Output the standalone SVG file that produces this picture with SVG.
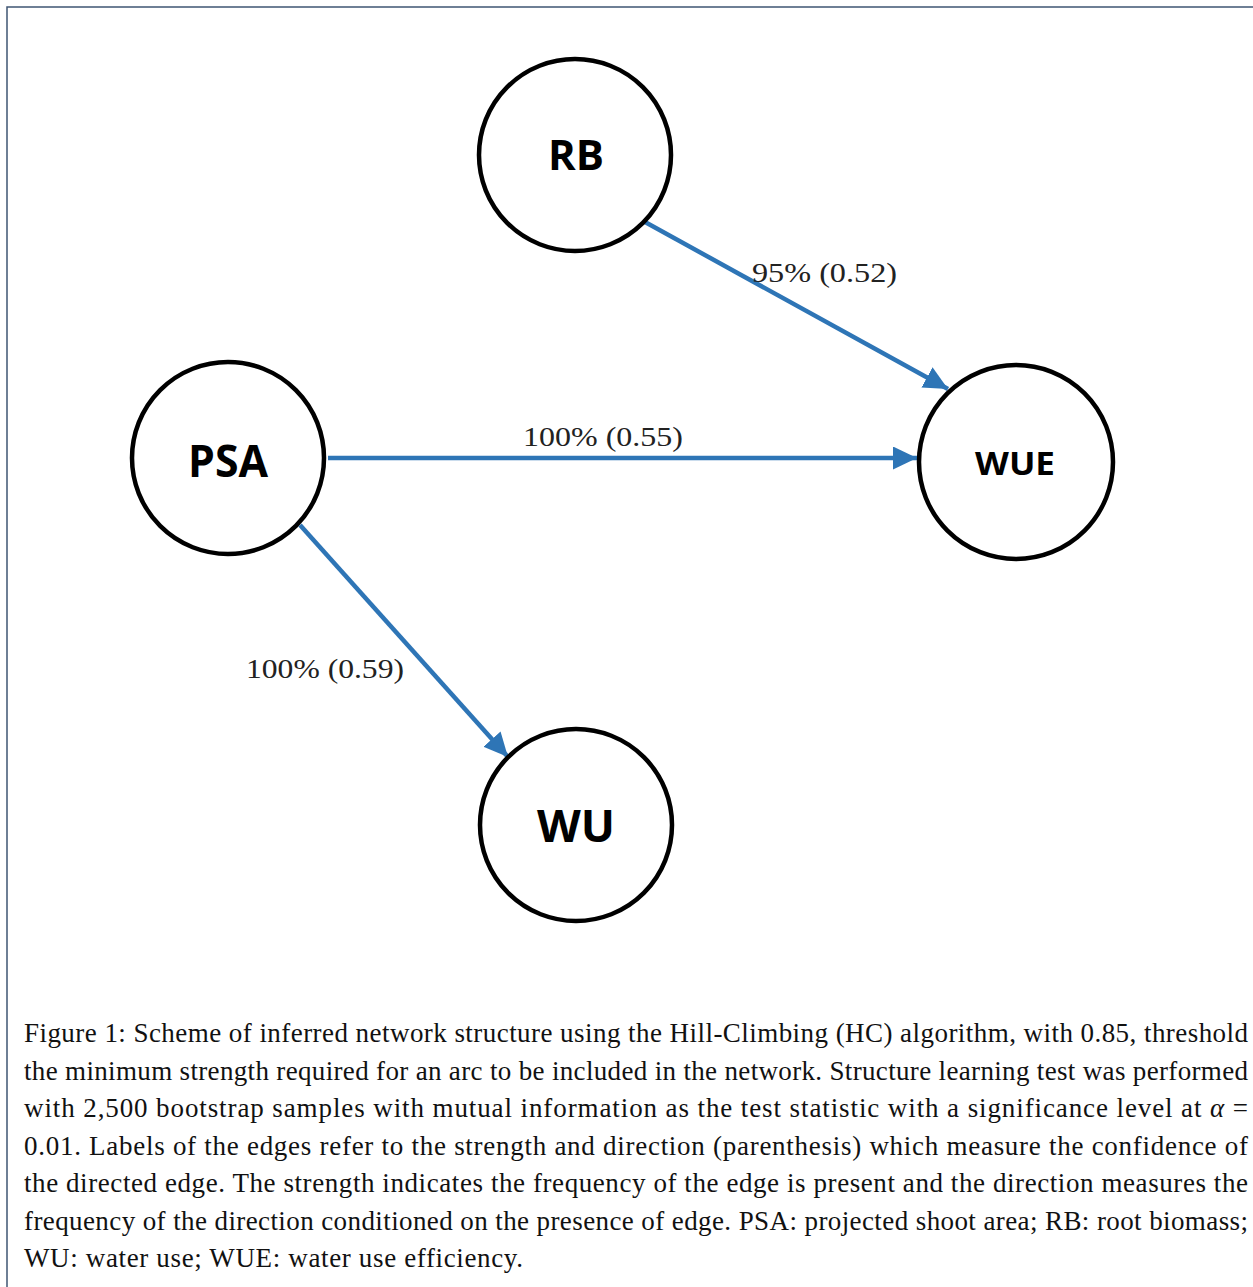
<svg xmlns="http://www.w3.org/2000/svg" width="1253" height="1287" viewBox="0 0 1253 1287">
<style>
.node circle{fill:#fff;stroke:#000;stroke-width:4.5}
.node text{font-family:"Open Sans","Liberation Sans",sans-serif;font-weight:bold;fill:#000;text-anchor:middle}
.edge{stroke:#2E75B6;stroke-width:4.5;fill:none;marker-end:url(#arr)}
.elabel{font-family:"Liberation Serif",serif;font-size:28px;fill:#222}
.cap{font-family:"Liberation Serif",serif;font-size:27px;fill:#111}
</style>
<defs>
<marker id="arr" markerUnits="userSpaceOnUse" markerWidth="26" markerHeight="26" refX="24" refY="11.5" orient="auto">
<path d="M0,0 L24,11.5 L0,23 z" fill="#2E75B6"/>
</marker>
</defs>
<rect x="7" y="7" width="1300" height="1300" fill="#fff" stroke="#3f5573" stroke-width="1.5"/>
<g id="connectors">
<line class="edge" x1="645" y1="222" x2="948" y2="389"/>
<line class="edge" x1="328" y1="458" x2="917" y2="458"/>
<line class="edge" x1="300" y1="525" x2="508" y2="757"/>
<text class="elabel" x="752" y="282" textLength="145" lengthAdjust="spacingAndGlyphs">95% (0.52)</text>
<text class="elabel" x="523" y="446" textLength="160" lengthAdjust="spacingAndGlyphs">100% (0.55)</text>
<text class="elabel" x="246" y="678" textLength="158" lengthAdjust="spacingAndGlyphs">100% (0.59)</text>
</g>
<g id="node-RB" class="node">
<circle cx="575" cy="155" r="96"/>
<text x="576" y="170" font-size="42" textLength="56" lengthAdjust="spacingAndGlyphs">RB</text>
</g>
<g id="node-PSA" class="node">
<circle cx="228" cy="458" r="96"/>
<text x="228" y="477" font-size="44" textLength="80" lengthAdjust="spacingAndGlyphs">PSA</text>
</g>
<g id="node-WUE" class="node">
<circle cx="1016" cy="462" r="97"/>
<text x="1015" y="475" font-size="33" textLength="80" lengthAdjust="spacingAndGlyphs">WUE</text>
</g>
<g id="node-WU" class="node">
<circle cx="576" cy="825" r="96"/>
<text x="576" y="842" font-size="44" textLength="78" lengthAdjust="spacingAndGlyphs">WU</text>
</g>
<g id="caption">
<text class="cap" x="24" y="1042" textLength="1224" lengthAdjust="spacing">Figure 1: Scheme of inferred network structure using the Hill-Climbing (HC) algorithm, with 0.85, threshold</text>
<text class="cap" x="24" y="1079.5" textLength="1224" lengthAdjust="spacing">the minimum strength required for an arc to be included in the network. Structure learning test was performed</text>
<text class="cap" x="24" y="1117" textLength="1224" lengthAdjust="spacing">with 2,500 bootstrap samples with mutual information as the test statistic with a significance level at <tspan font-style="italic">α</tspan> =</text>
<text class="cap" x="24" y="1154.5" textLength="1224" lengthAdjust="spacing">0.01. Labels of the edges refer to the strength and direction (parenthesis) which measure the confidence of</text>
<text class="cap" x="24" y="1192" textLength="1224" lengthAdjust="spacing">the directed edge. The strength indicates the frequency of the edge is present and the direction measures the</text>
<text class="cap" x="24" y="1229.5" textLength="1224" lengthAdjust="spacing">frequency of the direction conditioned on the presence of edge. PSA: projected shoot area; RB: root biomass;</text>
<text class="cap" x="24" y="1267" textLength="499" lengthAdjust="spacing">WU: water use; WUE: water use efficiency.</text>
</g>
</svg>
